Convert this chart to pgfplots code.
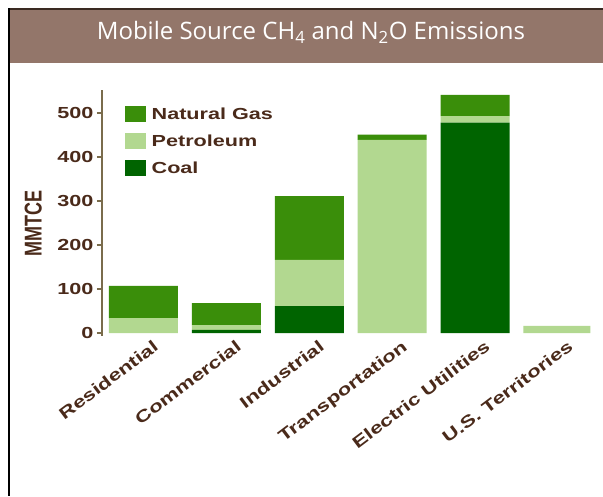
\documentclass[border=0pt]{standalone}
\usepackage{pgfplots}
\pgfplotsset{compat=1.18}
\usepackage{fontspec}
\setmainfont{Liberation Sans}
\newfontfamily\lblfont[FakeStretch=1.35]{Liberation Sans}
\newfontfamily\titlefont{Open Sans}
\definecolor{band}{HTML}{93766A}
\definecolor{topline}{HTML}{3A2A22}
\definecolor{txt}{HTML}{4A2A1A}
\definecolor{axisc}{HTML}{7A6C4C}
\definecolor{ng}{HTML}{3A8E0A}
\definecolor{pet}{HTML}{B2D890}
\definecolor{coal}{HTML}{006400}
\begin{document}
\begin{tikzpicture}[x=1pt,y=1pt]
\path[fill=white,use as bounding box] (0,0) rectangle (603,496);
\fill[topline] (8,485.5) rectangle (603,488);
\fill[black] (8,0) rectangle (10,488);
\fill[band] (10,433) rectangle (603,485.5);
\node[text=white, font=\titlefont\fontsize{24}{28}\selectfont, anchor=base, inner sep=0pt] at (311,456) {Mobile Source CH\textsubscript{4} and N\textsubscript{2}O Emissions};
\begin{axis}[
  at={(102pt,160.36pt)}, anchor=south west,
  scale only axis, width=488.3pt, height=245.5pt,
  xmin=-0.5, xmax=5.39, ymin=-6, ymax=552,
  ybar stacked, bar width=69pt,
  axis x line*=bottom, axis y line*=left,
  x axis line style={draw=none},
  y axis line style={axisc, line width=2pt, -},
  xtick={0,...,5},
  xticklabels={Residential,Commercial,Industrial,Transportation,Electric Utilities,U.S. Territories},
  xtick style={draw=none},
  ytick={0,100,...,500},
  ytick style={axisc, line width=1.2pt},
  tick align=outside, major tick length=5pt,
  /pgf/number format/assume math mode=true,
  yticklabel style={font=\lblfont\bfseries\fontsize{16}{18}\selectfont, text=txt},
  xticklabel style={font=\lblfont\bfseries\fontsize{16.5}{18}\selectfont, text=txt, rotate=37, anchor=north east, xshift=9pt, yshift=-3pt, inner sep=1pt},
  ylabel={\scalebox{1}[1.35]{MMTCE}},
  ylabel style={at={(axis description cs:-0.141,0.457)}, anchor=center, font=\bfseries\fontsize{18}{20}\selectfont, text=txt},
  reverse legend,
  legend style={draw=none, fill=none, at={(axis description cs:0.046,0.935)}, anchor=north west, font=\lblfont\bfseries\fontsize{16}{18}\selectfont, text=txt, row sep=11pt, inner sep=0pt, nodes={inner sep=0pt},
    /tikz/every odd column/.append style={column sep=6pt}},
  legend cell align=left,
  legend image code/.code={\fill[#1] (0pt,-8pt) rectangle (21pt,8pt);},
]
\addplot[fill=coal, draw=none] coordinates {(0,0) (1,7) (2,61) (3,0) (4,478) (5,0)};
\addplot[fill=pet, draw=none] coordinates {(0,34) (1,11) (2,105) (3,439) (4,15) (5,16)};
\addplot[fill=ng, draw=none] coordinates {(0,73) (1,50) (2,145) (3,12) (4,48) (5,0)};
\legend{Coal,Petroleum,Natural Gas}
\end{axis}
\end{tikzpicture}
\end{document}
